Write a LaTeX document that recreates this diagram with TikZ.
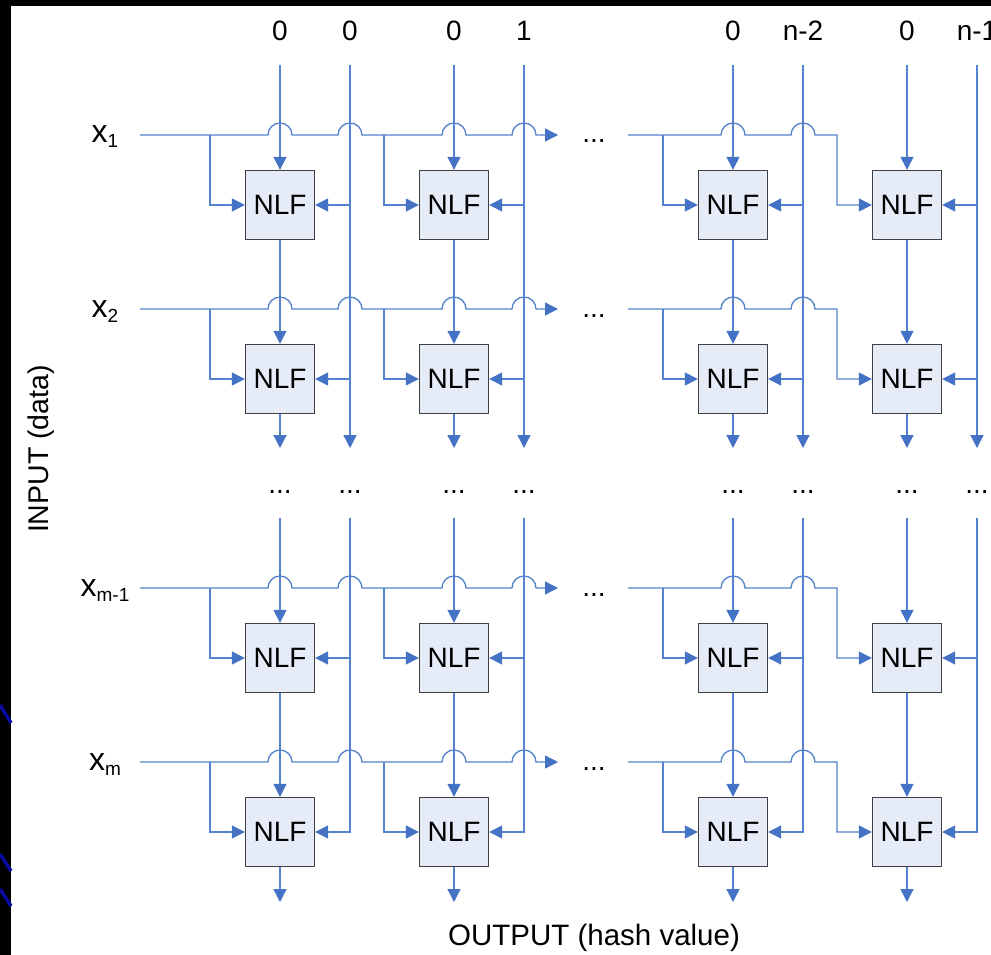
\documentclass[tikz,border=0pt]{standalone}
\usepackage{fontspec}
\setmainfont{Liberation Sans}
\usetikzlibrary{arrows.meta}
\definecolor{wireblue}{RGB}{84,130,204}
\definecolor{tipblue}{RGB}{68,114,196}
\definecolor{boxfill}{RGB}{230,236,247}
\definecolor{boxedge}{RGB}{64,64,64}
\definecolor{streak}{RGB}{10,10,160}

\begin{document}
\begin{tikzpicture}[x=1pt,y=-1pt,
  wire/.style={draw=wireblue,line width=1.3pt},
  feed/.style={wire,-{Triangle[length=13pt,width=13pt,color=tipblue,fill=tipblue]}},
  nlf/.style={draw=boxedge,fill=boxfill,line width=1.4pt,minimum size=69pt,
    inner sep=0pt,font=\fontsize{28}{32}\selectfont},
  lbl/.style={font=\fontsize{28}{32}\selectfont,inner sep=0pt,anchor=base},
  hop/.style={insert path={arc[start angle=180,end angle=0,radius=12pt]}},
]
\useasboundingbox (0,0) rectangle (991,955);

% frame and background
\fill[black] (0,0) rectangle (991,955);
\fill[white] (11,6) rectangle (991,955);
\draw[streak,line width=3.5pt] (0,705) -- (11,723);
\draw[streak,line width=3.5pt] (0,854) -- (11,871);
\draw[streak,line width=3.5pt] (0,889) -- (11,906);

% NLF cells
\foreach \r/\yb in {1/205,2/379,3/658,4/832}{
  \foreach \c/\cx in {1/280,2/454,3/733,4/907}{
    \node[nlf] (b-\r-\c) at (\cx,\yb) {NLF};
  }
}

% input rows
\foreach \r/\yi/\s in {1/135/1,2/309/2,3/588/m-1,4/762/m}{
  \node[lbl] (x-\r) at (105,\yi+8)
    {\fontsize{32}{32}\selectfont x\raisebox{-5pt}{\fontsize{19}{20}\selectfont \s}};
  \coordinate (in-\r) at (140,\yi);
  \coordinate (ja-\r) at (210,\yi);
  \coordinate (jb-\r) at (384,\yi);
  \coordinate (end-\r) at (558,\yi);
  \coordinate (re-\r) at (628,\yi);
  \coordinate (jc-\r) at (663,\yi);
  \coordinate (jd-\r) at (837,\yi);
  \draw[feed] (in-\r) -- (268,\yi) [hop] -- (338,\yi) [hop]
    -- (442,\yi) [hop] -- (512,\yi) [hop] -- (end-\r);
  \draw[feed] (re-\r) -- (721,\yi) [hop] -- (791,\yi) [hop]
    -- (jd-\r) |- (b-\r-4.west);
  \draw[feed] (ja-\r) |- (b-\r-1.west);
  \draw[feed] (jb-\r) |- (b-\r-2.west);
  \draw[feed] (jc-\r) |- (b-\r-3.west);
  \node[lbl] (dh-\r) at (594,\yi+8) {...};
}

% columns
\foreach \c/\cx/\t in {1/280/0,2/454/1,3/733/n-2,4/907/n-1}{
  \pgfmathsetmacro\sx{\cx+70}
  \node[lbl] (tl-\c) at (\cx,41) {0};
  \node[lbl] (tr-\c) at (\sx,41) {\t};
  \node[lbl] (dl-\c) at (\cx,493) {...};
  \node[lbl] (dr-\c) at (\sx,493) {...};
  \coordinate (top-\c) at (\cx,65);
  \coordinate (stop-\c) at (\sx,65);
  \coordinate (mid-\c) at (\cx,448);
  \coordinate (smid-\c) at (\sx,448);
  \coordinate (res-\c) at (\cx,518);
  \coordinate (sres-\c) at (\sx,518);
  \coordinate (bot-\c) at (\cx,902);
  % main vertical chain
  \draw[feed] (top-\c) -- (b-1-\c.north);
  \draw[feed] (b-1-\c.south) -- (b-2-\c.north);
  \draw[feed] (b-2-\c.south) -- (mid-\c);
  \draw[feed] (res-\c) -- (b-3-\c.north);
  \draw[feed] (b-3-\c.south) -- (b-4-\c.north);
  \draw[feed] (b-4-\c.south) -- (bot-\c);
  % side feedback line
  \draw[feed] (stop-\c) -- (smid-\c);
  \draw[feed] (b-1-\c.east -| stop-\c) -- (b-1-\c.east);
  \draw[feed] (b-2-\c.east -| stop-\c) -- (b-2-\c.east);
  \draw[feed] (sres-\c) |- (b-4-\c.east);
  \draw[feed] (b-3-\c.east -| sres-\c) -- (b-3-\c.east);
}

% axis captions
\node[lbl,rotate=90,font=\fontsize{28.5}{32}\selectfont] (inlab) at (48,449) {INPUT (data)};
\node[lbl,font=\fontsize{29.5}{32}\selectfont] (outlab) at (594,945) {OUTPUT (hash value)};
\end{tikzpicture}
\end{document}
